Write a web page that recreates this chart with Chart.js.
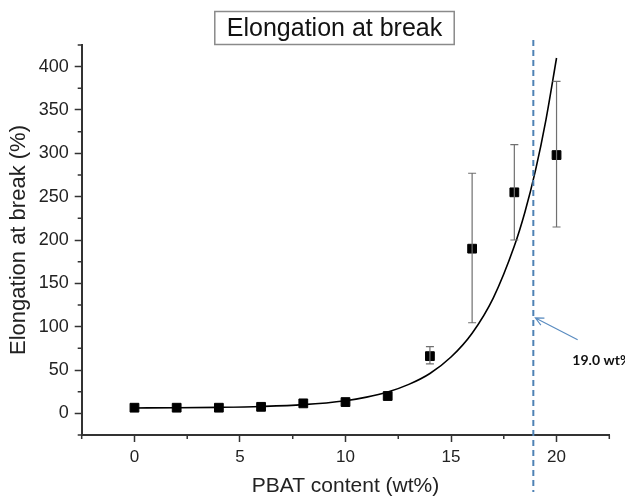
<!DOCTYPE html>
<html>
<head>
<meta charset="utf-8">
<title>Elongation at break</title>
<script src="https://cdn.jsdelivr.net/npm/chart.js@4.4.1/dist/chart.umd.min.js"></script>
<style>
    html, body { margin: 0; padding: 0; background: #ffffff; }
    #wrap { width: 625px; height: 497px; }
</style>
</head>
<body>
<div id="wrap"><canvas id="elongationChart" width="625" height="497"></canvas></div>
<script>
// ================================================
// ELONGATION AT BREAK vs PBAT CONTENT
// ================================================

// Measured points (wt% PBAT -> elongation %)
const pbatContent = [0, 2, 4, 6, 8, 10, 12, 14, 16, 18, 20];
const elongation = [6.5, 6.5, 6.5, 7.5, 11.5, 13, 20, 66, 190, 255, 298];
const errorLow = [null, null, null, null, null, null, null, 57, 104.5, 200, 215];
const errorHigh = [null, null, null, null, null, null, null, 77, 277, 310, 383];

// Fitted curve
const fitX = [0, 2, 4, 6, 8, 10, 11, 12, 13, 14, 15, 16, 17, 18, 18.5, 19, 19.5, 20];
const fitY = [6.2, 6.4, 6.9, 7.9, 10, 14.6, 18.7, 24.6, 33.4, 46, 65, 92.5, 133, 193, 232, 280, 339, 410];

// Axis ranges and tick labels
const xRange = [-2.5, 22.5];
const yRange = [-25, 425];
const xTickLabels = [0, 5, 10, 15, 20];
const yTickLabels = [0, 50, 100, 150, 200, 250, 300, 350, 400];

// Threshold marker + note
const thresholdX = 18.9;
const thresholdText = '19.0 wt%';
const arrowFrom = [21.0, 85];
const arrowTo = [19.0, 110];
const notePos = [20.75, 61.5];

const AXIS_COLOR = '#333333';
const FONT = '"Liberation Sans", Arial, sans-serif';

function isMajor(value, labels) {
    return labels.some(v => Math.abs(v - value) < 1e-6);
}

// Draw boxed title, error bars, minor ticks, dashed threshold and arrow
const decorPlugin = {
    id: 'decor',
    afterDatasetsDraw(chart) {
        const ctx = chart.ctx;
        const xs = chart.scales.x;
        const ys = chart.scales.y;

        // Error bars
        ctx.save();
        ctx.strokeStyle = '#707070';
        ctx.lineWidth = 1.2;
        pbatContent.forEach((x, i) => {
            if (errorLow[i] === null) return;
            const px = xs.getPixelForValue(x);
            const pLow = ys.getPixelForValue(errorLow[i]);
            const pHigh = ys.getPixelForValue(errorHigh[i]);
            ctx.beginPath();
            ctx.moveTo(px, pLow);
            ctx.lineTo(px, pHigh);
            ctx.moveTo(px - 4, pLow);
            ctx.lineTo(px + 4, pLow);
            ctx.moveTo(px - 4, pHigh);
            ctx.lineTo(px + 4, pHigh);
            ctx.stroke();
        });
        ctx.restore();
    },
    afterDraw(chart) {
        const ctx = chart.ctx;
        const xs = chart.scales.x;
        const ys = chart.scales.y;
        const area = chart.chartArea;

        // Minor ticks (shorter than the major ones)
        ctx.save();
        ctx.strokeStyle = AXIS_COLOR;
        ctx.lineWidth = 1.5;
        ctx.beginPath();
        ys.ticks.forEach(t => {
            if (isMajor(t.value, yTickLabels)) return;
            const py = ys.getPixelForValue(t.value);
            ctx.moveTo(area.left, py);
            ctx.lineTo(area.left - 4, py);
        });
        xs.ticks.forEach(t => {
            if (isMajor(t.value, xTickLabels)) return;
            const px = xs.getPixelForValue(t.value);
            ctx.moveTo(px, area.bottom);
            ctx.lineTo(px, area.bottom + 4);
        });
        ctx.stroke();
        ctx.restore();

        // Dashed threshold line
        const tx = xs.getPixelForValue(thresholdX);
        ctx.save();
        ctx.strokeStyle = '#4f82b4';
        ctx.lineWidth = 2;
        ctx.setLineDash([6, 4]);
        ctx.beginPath();
        ctx.moveTo(tx, area.top - 5);
        ctx.lineTo(tx, chart.height - 5);
        ctx.stroke();
        ctx.restore();

        // Arrow to the threshold line
        const ax0 = xs.getPixelForValue(arrowFrom[0]);
        const ay0 = ys.getPixelForValue(arrowFrom[1]);
        const ax1 = xs.getPixelForValue(arrowTo[0]);
        const ay1 = ys.getPixelForValue(arrowTo[1]);
        const ang = Math.atan2(ay1 - ay0, ax1 - ax0);
        ctx.save();
        ctx.strokeStyle = '#5a8cc0';
        ctx.lineWidth = 1.2;
        ctx.beginPath();
        ctx.moveTo(ax0, ay0);
        ctx.lineTo(ax1, ay1);
        ctx.moveTo(ax1 - 9 * Math.cos(ang - 0.45), ay1 - 9 * Math.sin(ang - 0.45));
        ctx.lineTo(ax1, ay1);
        ctx.lineTo(ax1 - 9 * Math.cos(ang + 0.45), ay1 - 9 * Math.sin(ang + 0.45));
        ctx.stroke();
        ctx.restore();

        // Note text
        ctx.save();
        ctx.fillStyle = '#111111';
        ctx.font = 'bold 14px Lato, "Open Sans", sans-serif';
        ctx.textAlign = 'left';
        ctx.textBaseline = 'middle';
        ctx.fillText(thresholdText, xs.getPixelForValue(notePos[0]), ys.getPixelForValue(notePos[1]));
        ctx.restore();

        // Boxed title
        const title = 'Elongation at break';
        ctx.save();
        ctx.font = '25px ' + FONT;
        const tw = ctx.measureText(title).width;
        const cx = 334.5;
        const cy = 28;
        ctx.fillStyle = '#ffffff';
        ctx.strokeStyle = '#8a8a8a';
        ctx.lineWidth = 1.5;
        ctx.fillRect(cx - tw / 2 - 12, cy - 16.5, tw + 24, 33);
        ctx.strokeRect(cx - tw / 2 - 12, cy - 16.5, tw + 24, 33);
        ctx.fillStyle = '#111111';
        ctx.textAlign = 'center';
        ctx.textBaseline = 'middle';
        ctx.fillText(title, cx, cy + 1);
        ctx.restore();
    }
};

function initElongationChart() {
    const ctx = document.getElementById('elongationChart');

    const fitPoints = fitX.map((x, i) => ({ x: x, y: fitY[i] }));
    const measured = pbatContent.map((x, i) => ({ x: x, y: elongation[i] }));

    new Chart(ctx, {
        type: 'scatter',
        data: {
            datasets: [
                {
                    label: 'Measured',
                    data: measured,
                    pointStyle: 'rect',
                    pointRadius: 6.2,
                    pointBackgroundColor: '#000000',
                    pointBorderColor: '#000000',
                    pointBorderWidth: 1,
                    showLine: false,
                    order: 1
                },
                {
                    label: 'Fit',
                    data: fitPoints,
                    showLine: true,
                    borderColor: '#000000',
                    borderWidth: 1.6,
                    pointRadius: 0,
                    cubicInterpolationMode: 'monotone',
                    order: 2
                }
            ]
        },
        options: {
            responsive: false,
            animation: false,
            layout: {
                padding: { top: 45, right: 15.7, left: 0, bottom: 0 }
            },
            plugins: {
                legend: { display: false },
                tooltip: { enabled: false },
                title: { display: false }
            },
            scales: {
                x: {
                    type: 'linear',
                    min: xRange[0],
                    max: xRange[1],
                    afterFit: scale => { scale.height = 62; },
                    border: { display: true, color: AXIS_COLOR, width: 2 },
                    grid: {
                        drawOnChartArea: false,
                        drawTicks: true,
                        tickLength: 7,
                        tickWidth: 1.5,
                        tickColor: c => (c.tick && isMajor(c.tick.value, xTickLabels)) ? AXIS_COLOR : 'rgba(0,0,0,0)'
                    },
                    ticks: {
                        stepSize: 2.5,
                        autoSkip: false,
                        maxRotation: 0,
                        padding: 5,
                        color: '#222222',
                        font: { family: FONT, size: 17 },
                        callback: value => isMajor(value, xTickLabels) ? String(value) : ''
                    },
                    title: {
                        display: true,
                        text: 'PBAT content (wt%)',
                        color: '#222222',
                        font: { family: FONT, size: 21, lineHeight: 1 },
                        padding: { top: 4.5, bottom: 0 }
                    }
                },
                y: {
                    type: 'linear',
                    min: yRange[0],
                    max: yRange[1],
                    afterFit: scale => { scale.width = 81.7; },
                    border: { display: true, color: AXIS_COLOR, width: 2 },
                    grid: {
                        drawOnChartArea: false,
                        drawTicks: true,
                        tickLength: 7,
                        tickWidth: 1.5,
                        tickColor: c => (c.tick && isMajor(c.tick.value, yTickLabels)) ? AXIS_COLOR : 'rgba(0,0,0,0)'
                    },
                    ticks: {
                        stepSize: 25,
                        autoSkip: false,
                        padding: 6,
                        color: '#222222',
                        font: { family: FONT, size: 18 },
                        callback: value => isMajor(value, yTickLabels) ? String(value) : ''
                    },
                    title: {
                        display: true,
                        text: 'Elongation at break (%)',
                        color: '#222222',
                        font: { family: FONT, size: 22, lineHeight: 1 },
                        padding: { top: 8, bottom: 0 }
                    }
                }
            }
        },
        plugins: [decorPlugin]
    });
}

initElongationChart();
</script>
</body>
</html>
